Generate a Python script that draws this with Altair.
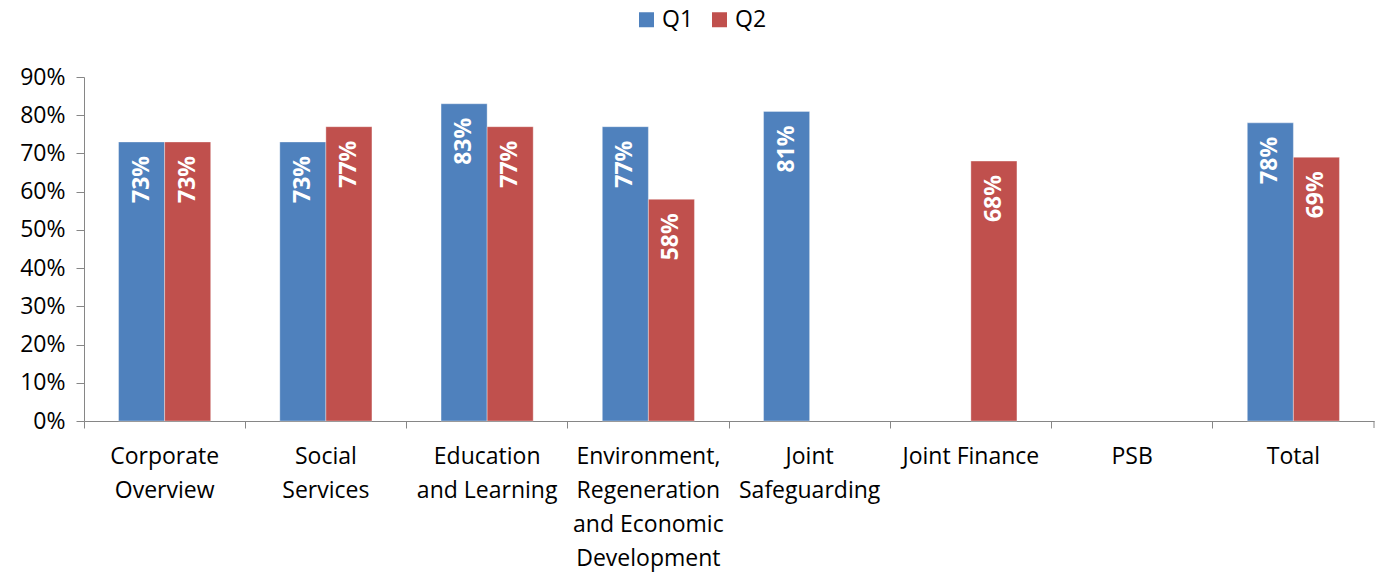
import altair as alt
import pandas as pd

categories = [
    "Corporate\nOverview",
    "Social\nServices",
    "Education\nand Learning",
    "Environment,\nRegeneration\nand Economic\nDevelopment",
    "Joint\nSafeguarding",
    "Joint Finance",
    "PSB",
    "Total",
]
series = ["Q1", "Q2"]
q1 = [0.73, 0.73, 0.83, 0.77, 0.81, None, None, 0.78]
q2 = [0.73, 0.77, 0.77, 0.58, None, 0.68, None, 0.69]
colors = ["#4F81BD", "#C0504D"]
y_ticks = [0.0, 0.1, 0.2, 0.3, 0.4, 0.5, 0.6, 0.7, 0.8, 0.9]

rows = []
for c, a, b in zip(categories, q1, q2):
    rows.append({"category": c, "series": "Q1", "value": a})
    rows.append({"category": c, "series": "Q2", "value": b})
df = pd.DataFrame(rows)

FONT = "Open Sans"
FS = 23
W, H = 1290, 344

x_scale = alt.Scale(domain=categories, paddingInner=0, paddingOuter=0)
y_scale = alt.Scale(domain=[0, 0.9], nice=False)

x_enc = alt.X(
    "category:N",
    sort=categories,
    scale=x_scale,
    axis=alt.Axis(
        title=None,
        labelAngle=0,
        labelExpr="split(datum.label, '\\n')",
        labelFontSize=FS,
        labelLineHeight=34,
        labelFont=FONT,
        labelColor="#000000",
        labelPadding=17,
        labelOverlap=False,
        bandPosition=0,
        tickSize=7,
        tickColor="#868686",
        domainColor="#868686",
        labelLimit=300,
    ),
)
xoff = alt.XOffset(
    "series:N",
    sort=series,
    scale=alt.Scale(domain=series, paddingInner=0, paddingOuter=0.75),
)
y_enc = alt.Y(
    "value:Q",
    scale=y_scale,
    axis=alt.Axis(
        title=None,
        values=y_ticks,
        format=".0%",
        grid=False,
        labelFontSize=FS,
        labelFont=FONT,
        labelColor="#000000",
        labelOverlap=False,
        labelBound=False,
        tickSize=8,
        tickColor="#868686",
        domainColor="#868686",
        labelPadding=11,
    ),
)

base = alt.Chart(df).transform_filter("isValid(datum.value)")

bars = base.mark_bar(stroke="#FFFFFF", strokeOpacity=0.35, strokeWidth=1).encode(
    x=x_enc,
    xOffset=xoff,
    y=y_enc,
    color=alt.Color(
        "series:N",
        scale=alt.Scale(domain=series, range=colors),
        legend=alt.Legend(
            title=None,
            orient="none",
            direction="horizontal",
            legendX=551,
            legendY=-69,
            symbolType="square",
            symbolSize=225,
            symbolStrokeWidth=0,
            labelFontSize=FS,
            labelFont=FONT,
            labelColor="#000000",
            columnPadding=14,
        ),
    ),
)

labels = base.mark_text(
    angle=270,
    align="right",
    baseline="middle",
    dx=-14,
    color="white",
    fontWeight="bold",
    fontSize=FS,
    font=FONT,
).encode(
    x=x_enc,
    xOffset=xoff,
    y=y_enc,
    text=alt.Text("value:Q", format=".0%"),
)

end_tick = alt.Chart(pd.DataFrame({"a": [0]})).mark_rule(color="#868686").encode(
    x=alt.value(W), y=alt.value(H), y2=alt.value(H + 7)
)

chart = (
    alt.layer(bars, labels, end_tick)
    .properties(
        width=W,
        height=H,
        autosize=alt.AutoSizeParams(type="none"),
        padding={"left": 84, "top": 77, "right": 4, "bottom": 155},
        background="white",
    )
    .configure_view(stroke=None)
)

chart.save("out.html", embed_options={"renderer": "svg", "actions": False})
